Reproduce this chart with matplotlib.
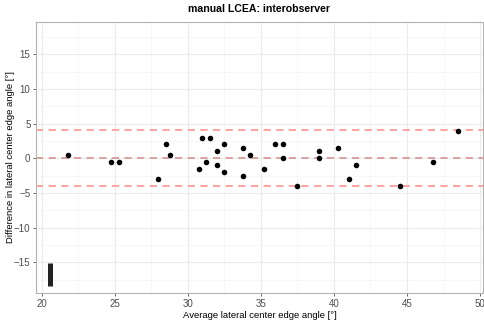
import numpy as np
import matplotlib.pyplot as plt
from matplotlib.ticker import MultipleLocator

plt.rcParams['font.family'] = ['Liberation Sans', 'DejaVu Sans']

avg = [21.8, 24.75, 25.3, 28.0, 28.5, 28.8, 30.75, 31.0, 31.5, 31.25,
       32.0, 32.0, 32.5, 32.5, 33.75, 34.25, 33.75, 35.25, 36.0, 36.5,
       36.5, 37.5, 39.0, 39.0, 40.25, 41.5, 41.0, 48.5, 46.75, 44.5]
diff = [0.5, -0.5, -0.5, -3, 2, 0.5, -1.5, 3, 3, -0.5,
        1, -1, 2, -2, 1.5, 0.5, -2.5, -1.5, 2, 2,
        0, -4, 1, 0, 1.5, -1, -3, 4, -0.5, -4]
mean_diff = 0.0
upper_loa = 4.05
lower_loa = -4.05
bar_x = 20.55
bar_y = [-15.1, -18.4]

fig = plt.figure(figsize=(4.85, 3.22), dpi=100)
ax = fig.add_axes([0.0742, 0.090, 0.9217, 0.8417])

ax.axhline(upper_loa, color='#ff9a9a', lw=1.3, ls=(0, (4, 3)), zorder=2)
ax.axhline(lower_loa, color='#ff9a9a', lw=1.3, ls=(0, (4, 3)), zorder=2)
ax.axhline(mean_diff, color='#d99a9a', lw=1.3, ls=(0, (4, 3)), zorder=2)
ax.scatter(avg, diff, s=16, color='black', zorder=3, linewidths=0)
ax.plot([bar_x, bar_x], bar_y, color='#222222', lw=3.6, solid_capstyle='butt', zorder=3)

ax.set_xlim(19.62, 50.2)
ax.set_ylim(-19.4, 19.65)
ax.xaxis.set_major_locator(MultipleLocator(5))
ax.xaxis.set_minor_locator(MultipleLocator(2.5))
ax.yaxis.set_major_locator(MultipleLocator(5))
ax.yaxis.set_minor_locator(MultipleLocator(2.5))
ax.grid(which='major', color='#ebebeb', lw=0.8)
ax.grid(which='minor', color='#f4f4f4', lw=0.5)
ax.set_axisbelow(True)
for s in ax.spines.values():
    s.set_color('#b3b3b3')
    s.set_linewidth(0.8)
ax.tick_params(which='major', length=2.5, width=0.6, color='#4d4d4d',
               labelcolor='#4d4d4d', labelsize=7.0, pad=1.5)
ax.tick_params(which='minor', length=0)

ax.set_title('manual LCEA: interobserver', fontsize=7.6, fontweight='bold', pad=7)
ax.set_xlabel('Average lateral center edge angle [°]', fontsize=6.8, labelpad=2)
ax.set_ylabel('Difference in lateral center edge angle [°]', fontsize=6.8)
ax.yaxis.set_label_coords(-0.048, 0.5)

plt.savefig('out.png', dpi=100)
